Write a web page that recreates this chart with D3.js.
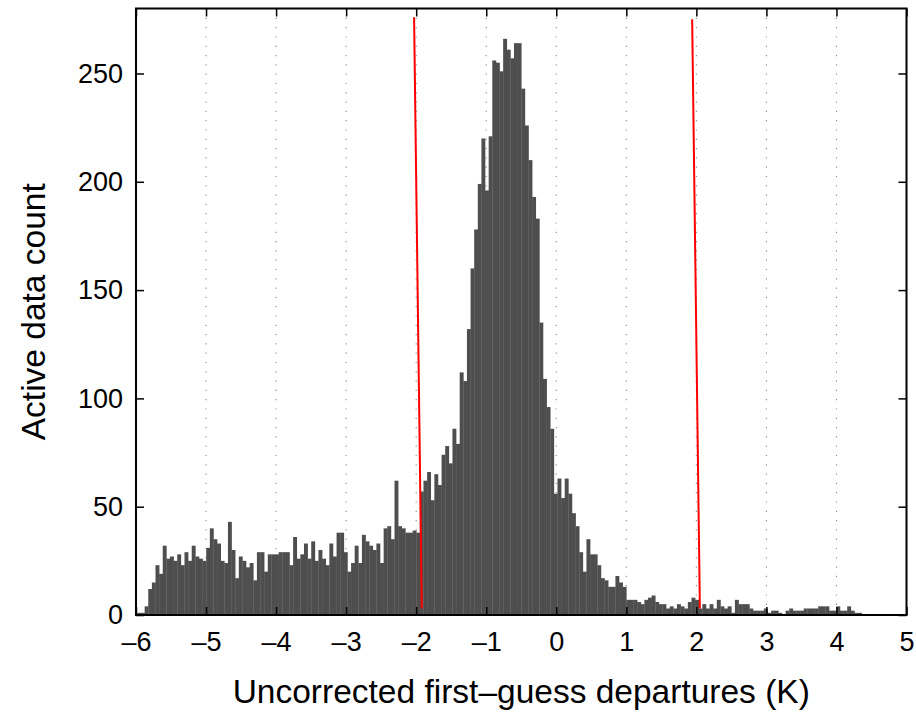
<!DOCTYPE html>
<html>
<head>
<meta charset="utf-8">
<script src="https://cdn.jsdelivr.net/npm/d3@7"></script>
<style>
  body { margin: 0; background: #fff; }
  svg text { font-family: "Liberation Sans", Arial, Helvetica, sans-serif; fill: #000; }
</style>
</head>
<body>
<script>
// histogram range (first and last bin edge, K)
const binStart = -5.98;
const binEnd = 4.36;

// active data count per bin
const counts = [
  1, 1, 4, 12, 15, 23, 19, 32, 26, 27,
  25, 28, 23, 29, 25, 32, 27, 26, 25, 31,
  40, 35, 33, 25, 24, 43, 30, 17, 27, 25,
  22, 24, 16, 29, 29, 20, 28, 28, 28, 29,
  29, 29, 23, 36, 26, 28, 33, 26, 34, 25,
  30, 26, 23, 33, 27, 38, 38, 29, 20, 24,
  32, 24, 37, 34, 32, 30, 33, 24, 40, 41,
  35, 62, 41, 40, 38, 38, 39, 38, 57, 62,
  66, 53, 65, 60, 74, 78, 70, 86, 79, 112,
  108, 132, 160, 178, 199, 220, 196, 221, 256, 255,
  251, 266, 261, 257, 264, 264, 243, 226, 210, 193,
  183, 135, 109, 96, 86, 56, 63, 54, 63, 56,
  47, 41, 29, 20, 35, 28, 28, 23, 17, 16,
  13, 13, 18, 15, 13, 7, 7, 7, 6, 5,
  7, 8, 9, 6, 5, 5, 3, 4, 3, 5,
  4, 3, 6, 8, 7, 3, 5, 3, 5, 3,
  7, 4, 3, 4, 1, 7, 5, 5, 5, 3,
  2, 2, 2, 3, 1, 2, 2, 1, 0, 2,
  3, 2, 2, 2, 3, 3, 3, 3, 4, 4,
  4, 2, 2, 4, 2, 2, 4, 2, 1, 1
];

// red threshold lines: [x, count] end points
const leftLine = [[-2.03, 276], [-1.92, 3]];
const rightLine = [[1.94, 275], [2.05, 3]];

const xTicks = [-6, -5, -4, -3, -2, -1, 0, 1, 2, 3, 4, 5];
const yTicks = [0, 50, 100, 150, 200, 250];

const xTitle = "Uncorrected first\u2013guess departures (K)";
const yTitle = "Active data count";

function drawChart() {
  const W = 916, H = 712;
  const margin = {top: 8.5, right: 9.5, bottom: 97, left: 136};
  const width = W - margin.left - margin.right;
  const height = H - margin.top - margin.bottom;

  const svg = d3.select("body").append("svg")
    .attr("width", W)
    .attr("height", H);

  const g = svg.append("g")
    .attr("transform", "translate(" + margin.left + "," + margin.top + ")");

  const x = d3.scaleLinear().domain([-6, 5]).range([0, width]);
  const y = d3.scaleLinear().domain([0, 280]).range([height, 0]);

  const fmt = d => (d < 0 ? "\u2013" + Math.abs(d) : String(d));

  // dotted vertical grid
  g.append("g")
    .attr("class", "grid")
    .selectAll("line")
    .data(xTicks.slice(1, -1))
    .enter().append("line")
    .attr("x1", d => x(d)).attr("x2", d => x(d))
    .attr("y1", 0).attr("y2", height)
    .attr("stroke", "#8a8a8a")
    .attr("stroke-width", 1.1)
    .attr("stroke-dasharray", "1.2,8.1");

  // histogram bars
  const binW = (binEnd - binStart) / counts.length;
  g.append("g")
    .selectAll("rect")
    .data(counts)
    .enter().append("rect")
    .attr("x", (d, i) => x(binStart + i * binW))
    .attr("width", (d, i) => x(binStart + (i + 1) * binW) - x(binStart + i * binW) + 0.3)
    .attr("y", d => y(d))
    .attr("height", d => y(0) - y(d))
    .attr("fill", "#4e4e4e");

  // red lines
  const line = d3.line().x(d => x(d[0])).y(d => y(d[1]));
  [leftLine, rightLine].forEach(pts => {
    g.append("path")
      .attr("d", line(pts))
      .attr("fill", "none")
      .attr("stroke", "#ff0000")
      .attr("stroke-width", 2);
  });

  // axes with inward ticks on all four sides
  const bottom = g.append("g")
    .attr("transform", "translate(0," + height + ")")
    .call(d3.axisBottom(x).tickValues(xTicks).tickFormat(fmt)
      .tickSizeInner(-8).tickSizeOuter(0).tickPadding(17));
  const top = g.append("g")
    .call(d3.axisTop(x).tickValues(xTicks).tickFormat("")
      .tickSizeInner(-8).tickSizeOuter(0));
  const left = g.append("g")
    .call(d3.axisLeft(y).tickValues(yTicks).tickFormat(d3.format("d"))
      .tickSizeInner(-8).tickSizeOuter(0).tickPadding(13));
  const right = g.append("g")
    .attr("transform", "translate(" + width + ",0)")
    .call(d3.axisRight(y).tickValues(yTicks).tickFormat("")
      .tickSizeInner(-8).tickSizeOuter(0));

  [bottom, top, left, right].forEach(a => {
    a.select(".domain").remove();
    a.selectAll(".tick line").attr("stroke", "#000").attr("stroke-width", 1.5);
    a.selectAll("text").attr("font-size", 27).attr("fill", "#000");
  });

  // box
  g.append("rect")
    .attr("width", width).attr("height", height)
    .attr("fill", "none")
    .attr("stroke", "#000")
    .attr("stroke-width", 2);

  // axis titles
  svg.append("text")
    .attr("x", margin.left + width / 2)
    .attr("y", 703)
    .attr("text-anchor", "middle")
    .attr("font-size", 33.5)
    .text(xTitle);

  svg.append("text")
    .attr("transform", "translate(45," + (margin.top + height / 2) + ") rotate(-90)")
    .attr("text-anchor", "middle")
    .attr("font-size", 33.5)
    .text(yTitle);
}

window.onload = drawChart;
</script>
</body>
</html>
